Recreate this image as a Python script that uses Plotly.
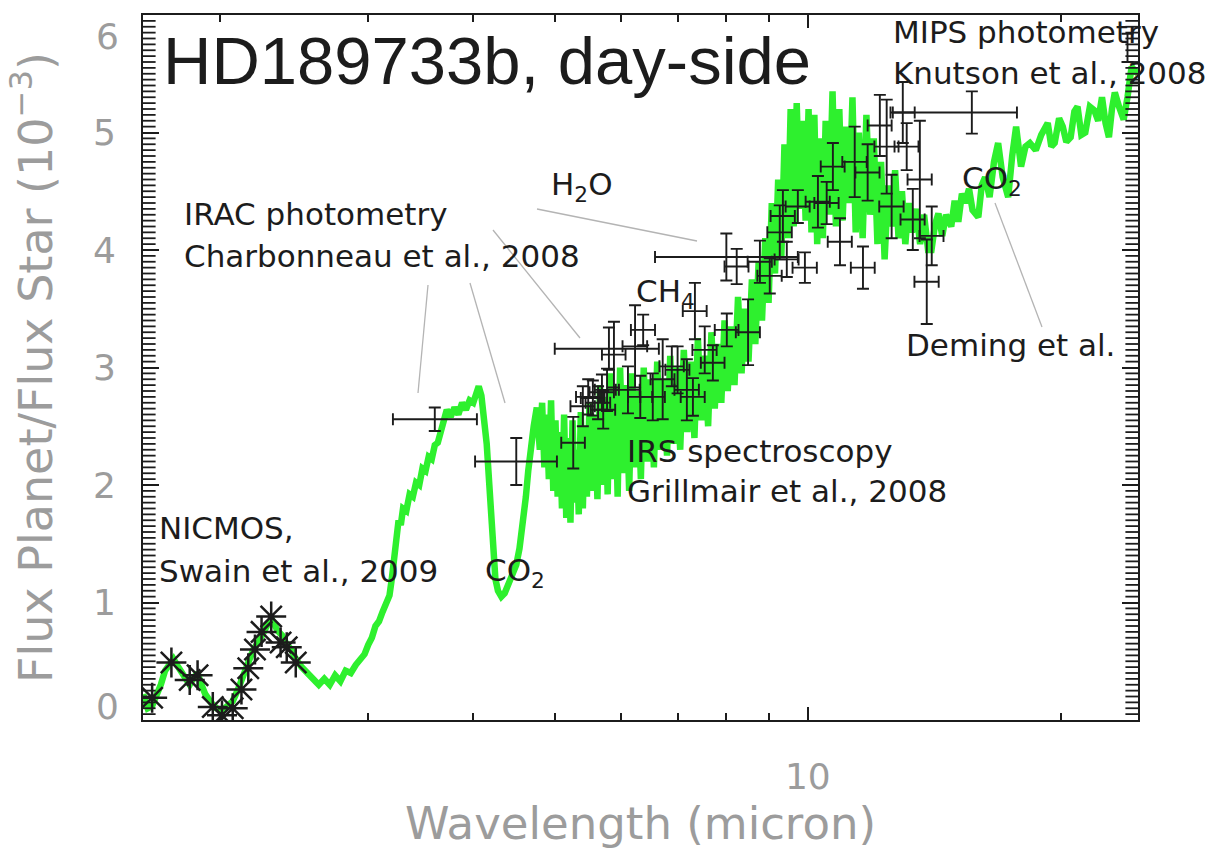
import math
import plotly.graph_objects as go

# ---------------- data ----------------
# model spectrum, segment by segment: (wavelength micron, Fp/Fs x1e-3)
model_nir = [(1.62,0.22),(1.64,0.10),(1.66,0.12),(1.68,0.20),(1.70,0.30),(1.72,0.42),(1.74,0.48),(1.76,0.52),
             (1.78,0.46),(1.80,0.40),(1.82,0.34),(1.84,0.30),(1.86,0.36),(1.88,0.40),(1.90,0.30),(1.92,0.22),
             (1.95,0.15),(1.98,0.10),(2.01,0.08),(2.04,0.12),(2.07,0.16),(2.10,0.26),(2.13,0.38),(2.16,0.50),
             (2.19,0.60),(2.22,0.66),(2.25,0.74),(2.28,0.82),(2.31,0.84),(2.34,0.76),(2.37,0.72),(2.40,0.64),
             (2.43,0.60),(2.46,0.52),(2.50,0.45)]
model_bowl = [(2.54,0.40),(2.58,0.34),(2.62,0.30),(2.66,0.35),(2.70,0.30),(2.74,0.38),(2.78,0.33),(2.82,0.42),
              (2.86,0.40),(2.90,0.47),(2.94,0.52),(2.97,0.56),(3.00,0.64),(3.03,0.70),(3.06,0.80),(3.09,0.84),
              (3.12,0.92),(3.15,0.98),(3.18,1.06),(3.20,1.20),(3.22,1.38),(3.24,1.55),(3.26,1.70),(3.28,1.66),
              (3.30,1.80),(3.33,1.78),(3.36,1.92),(3.39,1.90),(3.42,2.02),(3.45,2.00),(3.48,2.14),(3.51,2.12),
              (3.54,2.24),(3.57,2.22),(3.60,2.34),(3.63,2.36),(3.66,2.46),(3.69,2.52),(3.72,2.64)]
model_co2 = [(3.76,2.58),(3.80,2.66),(3.84,2.60),(3.88,2.70),(3.92,2.64),(3.96,2.72),(4.00,2.70),(4.03,2.78),
             (4.06,2.84),(4.09,2.76),(4.12,2.58),(4.15,2.35),(4.18,2.00),(4.20,1.70),(4.22,1.42),(4.25,1.20),
             (4.28,1.10),(4.32,1.05),(4.36,1.08),(4.40,1.14),(4.45,1.22),(4.50,1.32),(4.54,1.46),(4.58,1.66),
             (4.62,1.90),(4.65,2.12),(4.68,2.32),(4.72,2.50),(4.76,2.66)]
model_mid = [(4.80,2.30),(4.83,2.70),(4.86,2.15),(4.89,2.60),(4.92,2.05),(4.95,2.72),(4.98,1.95),(5.01,2.55),
             (5.04,1.90),(5.07,2.45),(5.10,1.80),(5.13,2.60),(5.16,1.72),(5.19,2.40),(5.22,1.68),(5.25,2.55),
             (5.28,1.85),(5.31,2.30),(5.34,1.75),(5.37,2.62),(5.40,1.80),(5.43,2.50),(5.46,1.90),(5.50,2.70),
             (5.54,1.95),(5.58,2.60),(5.62,1.88),(5.66,2.85),(5.70,2.00),(5.74,2.75),(5.78,1.92),(5.82,2.95),
             (5.86,2.05),(5.90,2.80),(5.94,1.90),(5.98,3.00),(6.03,2.10),(6.08,2.85),(6.13,1.95),(6.18,2.95),
             (6.23,2.15),(6.28,2.80),(6.33,2.05),(6.38,3.00),(6.44,2.20),(6.50,2.90),(6.56,2.15),(6.62,3.05),
             (6.68,2.30),(6.74,2.90),(6.80,2.25),(6.86,3.10),(6.92,2.35),(6.98,3.00),(7.05,2.30),(7.12,3.15),
             (7.19,2.45),(7.26,3.05),(7.33,2.40),(7.40,3.25),(7.47,2.55),(7.54,3.10),(7.61,2.50),(7.68,3.30),
             (7.75,2.65),(7.82,3.20),(7.89,2.70),(7.96,3.40),(8.03,2.80),(8.10,3.35),(8.18,2.85),(8.26,3.60),
             (8.34,2.95),(8.42,3.50),(8.50,3.05),(8.58,3.75),(8.66,3.20),(8.74,3.90),(8.82,3.40),(8.90,4.10),
             (8.98,3.55),(9.06,4.40),(9.14,3.80),(9.22,4.60),(9.30,3.95),(9.38,4.90),(9.46,4.10),(9.54,5.20),
             (9.62,4.20),(9.70,5.25),(9.78,4.35),(9.86,5.10),(9.94,4.25),(10.02,5.20),(10.10,4.15),(10.18,5.15),
             (10.26,4.05),(10.34,4.95),(10.42,4.10),(10.50,5.10),(10.60,4.30),(10.70,5.35),(10.80,4.20),(10.90,5.20),
             (11.00,4.25),(11.10,5.05),(11.20,4.40),(11.30,5.30),(11.40,4.15),(11.50,5.00),(11.62,4.10),(11.74,5.15),
             (11.86,4.30),(11.98,4.95),(12.10,4.05),(12.22,4.75),(12.34,3.92),(12.46,4.55),(12.58,4.20),(12.70,4.68),
             (12.82,4.10),(12.94,4.50),(13.06,4.05),(13.18,4.40),(13.30,4.15),(13.45,4.35),(13.60,4.05),(13.75,4.30),
             (13.90,4.00)]
model_far = [(14.03,4.00),(14.17,4.22),(14.30,4.31),(14.45,4.12),(14.60,4.30),(14.81,4.20),(14.95,4.42),(15.10,4.24),
             (15.25,4.48),(15.38,4.40),(15.55,4.52),(15.70,4.34),(15.95,4.28),(16.10,4.55),(16.25,4.62),(16.45,4.45),
             (16.65,4.75),(16.84,4.91),(17.05,4.62),(17.31,4.45),(17.50,4.80),(17.69,5.05),(17.93,4.71),(18.15,4.88),
             (18.37,4.91),(18.67,4.85),(18.95,4.98),(19.29,5.08),(19.48,4.88),(19.66,4.91),(19.90,5.12),(20.10,5.05),
             (20.30,4.92),(20.54,4.96),(20.75,5.18),(20.93,5.22),(21.15,4.98),(21.38,5.00),(21.65,5.22),(21.91,5.19),
             (22.15,5.10),(22.38,5.30),(22.60,5.08),(22.81,4.96),(23.00,5.20),(23.18,5.34),(23.45,5.22),(23.75,5.11),
             (24.00,5.30),(24.27,5.56),(24.46,5.53),(24.70,5.50)]

# NICMOS (Swain et al. 2009)
nicmos_wl = [1.66, 1.75, 1.84, 1.88, 1.96, 2.01, 2.07, 2.12, 2.16, 2.20, 2.24, 2.30, 2.36, 2.40, 2.46]
nicmos_fp = [0.19, 0.49, 0.34, 0.38, 0.11, 0.04, 0.10, 0.26, 0.44, 0.60, 0.75, 0.88, 0.66, 0.62, 0.49]

# IRAC photometry (Charbonneau et al. 2008)
irac_wl = [3.6, 4.5, 5.8, 8.0]
irac_fp = [2.56, 2.20, 3.16, 3.94]
irac_dfp = [0.10, 0.20, 0.18, 0.20]
irac_dwl_minus = [0.39, 0.48, 0.80, 1.42]
irac_dwl_plus = [0.44, 0.53, 0.85, 1.73]

# IRS spectroscopy (Grillmair et al. 2008): (wl, fp, dfp, dwl)
irs = [(5.26,2.36,0.22,0.17),(5.40,2.67,0.17,0.18),(5.48,2.75,0.15,0.18),(5.55,2.74,0.15,0.18),
       (5.63,2.70,0.14,0.19),(5.69,2.79,0.15,0.19),(5.71,2.64,0.16,0.19),(5.77,2.81,0.18,0.19),
       (5.88,3.11,0.28,0.19),(6.11,2.81,0.20,0.20),(6.23,3.18,0.35,0.21),(6.32,2.75,0.18,0.21),
       (6.37,3.32,0.13,0.21),(6.54,2.75,0.20,0.22),(6.72,2.90,0.34,0.22),(6.89,3.01,0.17,0.23),
       (7.00,2.98,0.20,0.23),(7.18,2.81,0.26,0.24),(7.30,2.75,0.16,0.24),(7.34,3.48,0.24,0.24),
       (7.54,3.15,0.20,0.25),(7.71,3.04,0.15,0.25),(8.01,3.32,0.14,0.26),(8.23,3.86,0.15,0.27),
       (8.49,3.30,0.28,0.28),(8.77,3.90,0.18,0.29),(9.01,3.78,0.15,0.30),(9.26,4.15,0.23,0.31),
       (9.34,4.29,0.22,0.31),(9.44,3.92,0.15,0.31),(9.73,4.37,0.14,0.32),(9.92,3.85,0.13,0.33),
       (10.28,4.41,0.22,0.34),(10.53,4.40,0.18,0.35),(10.71,4.71,0.20,0.35),(10.92,4.07,0.20,0.36),
       (11.37,4.75,0.30,0.38),(11.63,3.85,0.18,0.38),(11.78,4.66,0.24,0.39),(12.18,5.06,0.26,0.40),
       (12.41,4.88,0.40,0.41),(12.58,4.37,0.27,0.42),(12.97,5.17,0.26,0.43),(13.11,4.88,0.20,0.43),
       (13.33,4.26,0.26,0.44),(13.59,4.60,0.50,0.45),(13.85,3.73,0.36,0.46),(14.04,4.12,0.25,0.46)]

# IRS peak-up 16 micron (Deming et al.) and MIPS 24 micron (Knutson et al. 2008)
pu_wl, pu_fp, pu_dfp, pu_dwl_minus, pu_dwl_plus = [15.67], [5.17], [0.18], [3.05], [2.06]
mips_wl, mips_fp, mips_dfp = [24.0], [5.72], [0.12]

x_range = [1.619, 24.7]
x_minor_ticks = [2, 3, 4, 5, 6, 7, 8, 9, 20]
x_major_ticks = [10]
y_major_ticks = [0, 1, 2, 3, 4, 5, 6]
y_minor_step = 0.05

# ---------------- figure ----------------
model = model_nir + model_bowl + model_co2 + model_mid + model_far
mw = [p[0] for p in model]
mf = [p[1] for p in model]

GREEN = '#2ef02e'
INK = '#1c1c1c'
GRAY = '#9c9c9c'

fig = go.Figure()
fig.add_trace(go.Scatter(x=mw, y=mf, mode='lines', line=dict(color=GREEN, width=6.5), hoverinfo='skip'))

fig.add_trace(go.Scatter(x=nicmos_wl, y=nicmos_fp, mode='markers',
                         marker=dict(symbol='asterisk-open', size=25, color=INK, line=dict(color=INK, width=2.5))))

err_style = dict(color=INK, thickness=1.9, width=6)
fig.add_trace(go.Scatter(x=irac_wl, y=irac_fp, mode='markers', marker=dict(size=1, color=INK),
                         error_y=dict(type='data', array=irac_dfp, **err_style),
                         error_x=dict(type='data', array=irac_dwl_plus, arrayminus=irac_dwl_minus, symmetric=False, **err_style)))
fig.add_trace(go.Scatter(x=[p[0] for p in irs], y=[p[1] for p in irs], mode='markers', marker=dict(size=1, color=INK),
                         error_y=dict(type='data', array=[p[2] for p in irs], **err_style),
                         error_x=dict(type='data', array=[p[3] for p in irs], **err_style)))
fig.add_trace(go.Scatter(x=pu_wl, y=pu_fp, mode='markers', marker=dict(size=1, color=INK),
                         error_y=dict(type='data', array=pu_dfp, **err_style),
                         error_x=dict(type='data', array=pu_dwl_plus, arrayminus=pu_dwl_minus, symmetric=False, **err_style)))
fig.add_trace(go.Scatter(x=mips_wl, y=mips_fp, mode='markers', marker=dict(size=1, color=INK),
                         error_y=dict(type='data', array=mips_dfp, **err_style)))

# dense y minor ticks on both frame sides: short horizontal strokes centred on the frame, clipped to the plot
y_minor_ticks = [round(i * y_minor_step, 2) for i in range(1, int(round(6 / y_minor_step)))]
y_minor_ticks = [v for v in y_minor_ticks if abs(v - round(v)) > 1e-9]
fig.add_trace(go.Scatter(x=[x_range[0]] * len(y_minor_ticks) + [x_range[1]] * len(y_minor_ticks),
                         y=y_minor_ticks + y_minor_ticks, mode='markers', cliponaxis=True, hoverinfo='skip',
                         marker=dict(symbol='line-ew-open', size=18, color=INK, line=dict(color=INK, width=1.8))))

L, R, T, B = 143, 1138, 15, 720
def px(x):
    return (x - L) / (R - L)
def py(y):
    return (B - y) / (B - T)

label_font = dict(family='DejaVu Sans', size=31, color=INK)
labels = [
    ("HD189733b, day-side", 161, 61, dict(family='Liberation Sans, Arial', size=67, color=INK)),
    ("MIPS photometry", 891, 32, label_font),
    ("Knutson et al., 2008", 891, 73, label_font),
    ("IRAC photometry", 182, 214, label_font),
    ("Charbonneau et al., 2008", 182, 256, label_font),
    ("H<sub>2</sub>O", 549, 186, label_font),
    ("CH<sub>4</sub>", 634, 293, label_font),
    ("IRS spectroscopy", 625, 451, label_font),
    ("Grillmair et al., 2008", 625, 491, label_font),
    ("CO<sub>2</sub>", 960, 180, label_font),
    ("Deming et al.", 904, 345, label_font),
    ("NICMOS,", 157, 528, label_font),
    ("Swain et al., 2009", 157, 571, label_font),
    ("CO<sub>2</sub>", 483, 572, label_font),
]
for text, x, y, f in labels:
    fig.add_annotation(text=text, x=px(x), y=py(y), xref='paper', yref='paper',
                       xanchor='left', yanchor='middle', showarrow=False, font=f)

# end labels of the y scale sit inside the frame, as in the reference
tick_font = dict(family='DejaVu Sans', size=36, color=GRAY)
for text, y in (("6", 36), ("0", 706)):
    fig.add_annotation(text=text, x=px(121), y=py(y), xref='paper', yref='paper',
                       xanchor='right', yanchor='middle', showarrow=False, font=tick_font)

connectors = [((428, 285), (418, 393)), ((470, 283), (505, 403)), ((493, 230), (580, 338)),
              ((537, 209), (697, 241)), ((995, 203), (1042, 327))]
for (x0, y0), (x1, y1) in connectors:
    fig.add_shape(type='line', xref='paper', yref='paper', x0=px(x0), y0=py(y0), x1=px(x1), y1=py(y1),
                  line=dict(color='#b4b4b4', width=1.3))

axis_common = dict(showline=True, linewidth=2, linecolor=INK, mirror='ticks', showgrid=False, zeroline=False,
                   ticks='inside', tickwidth=2, tickcolor=INK)
fig.update_xaxes(type='log', range=[math.log10(x_range[0]), math.log10(x_range[1])],
                 tickmode='array', tickvals=x_major_ticks, ticktext=[str(v) for v in x_major_ticks], ticklen=13,
                 minor=dict(tickmode='array', tickvals=x_minor_ticks, ticks='inside', ticklen=7, tickwidth=2,
                            tickcolor=INK, showgrid=False),
                 tickfont=tick_font, ticklabelstandoff=24,
                 title=dict(text='Wavelength (micron)', font=dict(family='DejaVu Sans', size=45, color=GRAY), standoff=8),
                 **axis_common)
fig.update_yaxes(range=[0, 6], tickmode='array', tickvals=y_major_ticks,
                 ticktext=['' if v in (0, 6) else str(v) for v in y_major_ticks], ticklen=16,
                 tickfont=tick_font, ticklabelstandoff=18,
                 title=dict(text='Flux Planet/Flux Star (10<sup>−3</sup>)',
                            font=dict(family='DejaVu Sans', size=46, color=GRAY), standoff=26),
                 **axis_common)

fig.update_layout(width=1214, height=857, margin=dict(l=L, r=1214 - R, t=T, b=857 - B, autoexpand=False),
                  plot_bgcolor='white', paper_bgcolor='white', showlegend=False)

fig.write_html("out.html")
